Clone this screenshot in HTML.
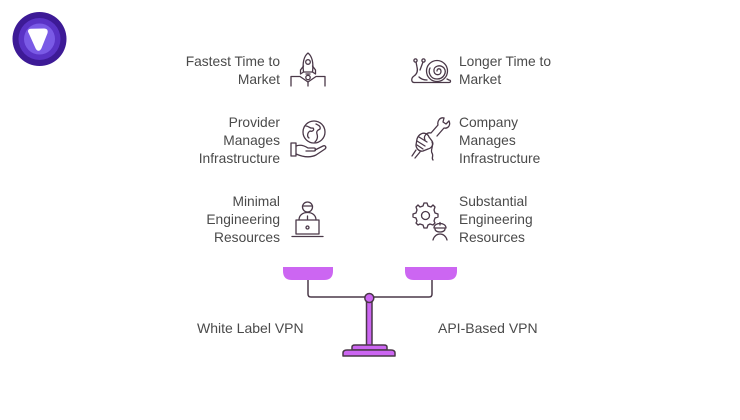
<!DOCTYPE html>
<html>
<head>
<meta charset="utf-8">
<style>
  html, body { margin:0; padding:0; background:#ffffff; }
  body { width:740px; height:420px; position:relative; overflow:hidden;
         font-family:"Liberation Sans", Arial, sans-serif; color:#4a4a4a; }
  .t { position:absolute; font-size:13.8px; line-height:18px; white-space:nowrap; }
  .l { right:460px; text-align:right; }
  .r { left:459px; text-align:left; }
  .lab { position:absolute; font-size:14px; line-height:18px; white-space:nowrap; color:#4a4a4a; }
  svg { position:absolute; left:0; top:0; }
</style>
</head>
<body>
<svg width="740" height="420" viewBox="0 0 740 420" xmlns="http://www.w3.org/2000/svg">
  <!-- Logo -->
  <circle cx="39.5" cy="39" r="27" fill="#3d1a96"/>
  <circle cx="39.5" cy="39" r="21" fill="#5a33c6"/>
  <circle cx="39.5" cy="39" r="15.5" fill="#7a5ae6"/>
  <path d="M29.5 32.5 Q28 30 31 29.8 L44 29.5 Q47.5 29.5 46.5 33 L40.5 48 Q38.5 51.5 36.5 48 Z" fill="#ffffff" stroke="#ffffff" stroke-width="2" stroke-linejoin="round"/>

  <g fill="none" stroke="#4a3848" stroke-width="1.3" stroke-linecap="round" stroke-linejoin="round">
    <!-- Rocket -->
    <path d="M308 53 C303 57 302.5 64 303.5 72 L312.5 72 C313.5 64 313 57 308 53 Z"/>
    <circle cx="308" cy="62" r="2.3"/>
    <path d="M303.5 66 L300.5 70 L300.5 74 L303.5 72"/>
    <path d="M312.5 66 L315.5 70 L315.5 74 L312.5 72"/>
    <circle cx="308" cy="77.5" r="2.2"/>
    <path d="M306 74 L310 74"/>
    <path d="M291 86 L291 76.5 L300 76.5 L308 82 L316 76.5 L325 76.5 L325 86"/>
    <path d="M308 82 L308 86"/>

    <!-- Globe in hand -->
    <circle cx="314" cy="132" r="11"/>
    <path d="M306 126 C309 126 310 129 313 128 C315 130 312 132 310 131 C307 133 307 137 309 138"/>
    <path d="M316 124 C318 125 321 126 320 129 C318 130 316 131 317 134 C318 137 317 140 315 142"/>
    <path d="M291 143 L296 143 L296 156 L291 156 Z"/>
    <path d="M296 146 C301 144 305 146 308 148 L314 148 C316 148 316 151 314 151 L306 151"/>
    <path d="M296 154 C303 157 310 158 316 155 L325 149 C327 147 325 145 323 146 L315 150"/>

    <!-- Person at laptop -->
    <circle cx="307.5" cy="207" r="5"/>
    <path d="M302.5 206 L312.5 206"/>
    <path d="M299 220 C299 215 303 212.5 307.5 212.5 C312 212.5 316 215 316 220"/>
    <path d="M307.5 216 L307.5 219"/>
    <path d="M296 220 L319 220 L319 234 L296 234 Z"/>
    <circle cx="307.5" cy="227.5" r="1.5"/>
    <path d="M292 236.5 L323 236.5"/>

    <!-- Snail -->
    <circle cx="437" cy="71" r="10.5"/>
    <path d="M437 71 C437 68 441 68 441 71.5 C441 75.5 435 76 434 71.5 C433 66 440 64 444 68 C447 72 444 79 437 79 C430 79 428 72 430 68"/>
    <path d="M414 82.5 L449 82.5 C451 82.5 451 80 449 80 L447 79"/>
    <path d="M414 82.5 C411 82 411 78 414 76 C417 74 418 71 417 67 L416 62"/>
    <path d="M420 70 L423 62"/>
    <circle cx="415.5" cy="60.5" r="1.6"/>
    <circle cx="423.5" cy="60.5" r="1.6"/>
    <path d="M419 77 C421 79 424 80 427 80"/>

    <!-- Wrench in fist -->
    <path d="M444 118 C440 117 437 121 438 125 L431 133 C427 132 423 136 425 140"/>
    <path d="M449 121 C451 125 448 129 444 128 L437 136"/>
    <path d="M444 118 L443 122 L446 124 L449 121"/>
    <path d="M421 134 C424 132 428 134 429 137 L432 141 C434 144 432 148 428 149 L423 151 C419 152 416 148 416 145 L417 139 C418 136 419 135 421 134 Z"/>
    <path d="M419 137 L427 142"/>
    <path d="M417 141 L425 146"/>
    <path d="M417 145 L423 149"/>
    <path d="M416 150 L412 156"/>
    <path d="M420 152 L415 158"/>
    <path d="M432 142 C434 146 430 150 432 153 C434 156 431 158 433 160"/>

    <!-- Gear & worker -->
    <path d="M424 203 L427 203 L428 206 L431 207 L433 205 L435 207 L434 210 L435 213 L438 214 L438 217 L435 218 L434 221 L435 223 L433 225 L430 224 L428 225 L427 228 L424 228 L423 225 L420 224 L418 225 L416 223 L417 221 L416 218 L413 217 L413 214 L416 213 L417 210 L416 207 L418 205 L420 207 L423 206 Z"/>
    <circle cx="425.5" cy="215.5" r="4"/>
    <path d="M434 228 C434 222 446 222 446 228 Z"/>
    <path d="M440 222.5 L440 225"/>
    <path d="M435 229 C435 233 445 233 445 229"/>
    <path d="M433 240 C434 236 437 234 440 234 C443 234 446 236 447 240"/>
  </g>

  <!-- Scale -->
  <g stroke="#4a3848" stroke-width="1.5" stroke-linecap="round" stroke-linejoin="round">
    <path d="M308 280 L308 294 Q308 297 311 297 L429 297 Q432 297 432 294 L432 280" fill="none"/>
    <path d="M283 267 L333 267 L333 271 Q333 280 324 280 L292 280 Q283 280 283 271 Z" fill="#cc66f2" stroke="none"/>
    <path d="M405 267 L457 267 L457 271 Q457 280 448 280 L414 280 Q405 280 405 271 Z" fill="#cc66f2" stroke="none"/>
    <rect x="366.5" y="300" width="5.5" height="46" fill="#cc66f2"/>
    <path d="M352 350 L352 347 Q352 345 355 345 L384 345 Q387 345 387 347 L387 350 Z" fill="#cc66f2"/>
    <path d="M343 356 L343 353 Q343 350 347 350 L391 350 Q395 350 395 353 L395 356 Z" fill="#cc66f2"/>
    <circle cx="369.3" cy="298" r="4.5" fill="#cc66f2"/>
  </g>
</svg>

<div class="t l" style="top:53px;">Fastest Time to<br>Market</div>
<div class="t l" style="top:114px;">Provider<br>Manages<br>Infrastructure</div>
<div class="t l" style="top:193px;">Minimal<br>Engineering<br>Resources</div>

<div class="t r" style="top:53px;">Longer Time to<br>Market</div>
<div class="t r" style="top:114px;">Company<br>Manages<br>Infrastructure</div>
<div class="t r" style="top:193px;">Substantial<br>Engineering<br>Resources</div>

<div class="lab" style="left:197px; top:319px;">White Label VPN</div>
<div class="lab" style="left:438px; top:319px;">API-Based VPN</div>
</body>
</html>
